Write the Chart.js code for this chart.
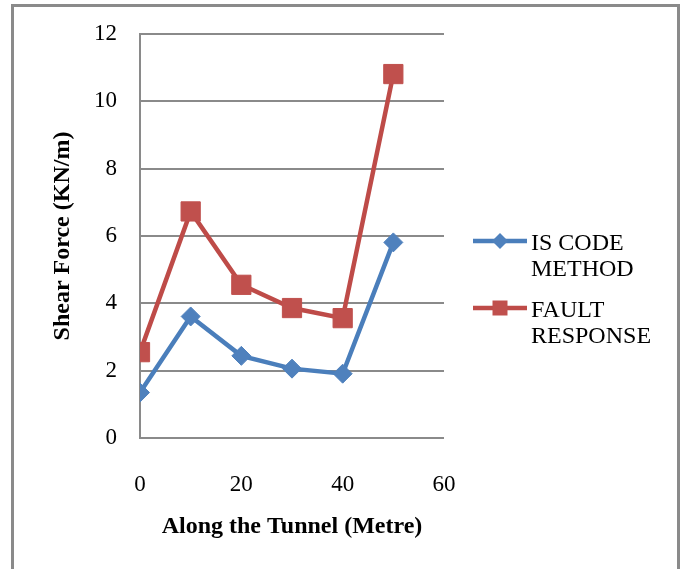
<!DOCTYPE html>
<html>
<head>
<meta charset="utf-8">
<style>
  html, body { margin: 0; padding: 0; background: #ffffff; }
  #wrap { width: 683px; height: 569px; position: relative; }
</style>
<script src="https://cdn.jsdelivr.net/npm/chart.js@4/dist/chart.umd.min.js"></script>
</head>
<body>
<div id="wrap"><canvas id="chart" width="683" height="569"></canvas></div>
<script>
// Distance along the tunnel (m) and shear force (KN/m) for each method
const distances = [0, 10, 20, 30, 40, 50];
const isCodeMethod = [1.35, 3.61, 2.44, 2.06, 1.91, 5.81];
const faultResponse = [2.55, 6.73, 4.55, 3.86, 3.56, 10.81];
const seriesLabels = [['IS CODE', 'METHOD'], ['FAULT', 'RESPONSE']];
const xTicks = [0, 20, 40, 60];
const yTicks = [0, 2, 4, 6, 8, 10, 12];

const SERIF = '"Liberation Serif", "Times New Roman", serif';
const GRID = '#8a8a8a';
const BLUE = '#4a7ebb';
const RED = '#be4b48';

const toPoints = vals => vals.map((v, i) => ({ x: distances[i], y: v }));

// Outer frame (open at the bottom)
const framePlugin = {
  id: 'frame',
  beforeDraw(chart) {
    const ctx = chart.ctx;
    ctx.save();
    ctx.strokeStyle = GRID;
    ctx.lineWidth = 3;
    ctx.beginPath();
    ctx.moveTo(12.5, 569);
    ctx.lineTo(12.5, 5.5);
    ctx.lineTo(678.5, 5.5);
    ctx.lineTo(678.5, 569);
    ctx.stroke();
    ctx.restore();
  }
};

// Legend on the right with two-line labels
const sideLegend = {
  id: 'sideLegend',
  afterDraw(chart) {
    const ctx = chart.ctx;
    const rows = [241, 308];
    ctx.save();
    chart.data.datasets.forEach((ds, i) => {
      const y = rows[i];
      ctx.strokeStyle = ds.borderColor;
      ctx.lineWidth = 4.5;
      ctx.beginPath();
      ctx.moveTo(473, y);
      ctx.lineTo(527, y);
      ctx.stroke();
      ctx.fillStyle = ds.pointBackgroundColor;
      ctx.beginPath();
      if (ds.pointStyle === 'rectRot') {
        const r = 8;
        ctx.moveTo(500 - r, y);
        ctx.lineTo(500, y - r);
        ctx.lineTo(500 + r, y);
        ctx.lineTo(500, y + r);
        ctx.closePath();
      } else {
        ctx.rect(492.5, y - 7.5, 15, 15);
      }
      ctx.fill();
      ctx.fillStyle = '#000000';
      ctx.font = '24px ' + SERIF;
      ctx.textAlign = 'left';
      ctx.textBaseline = 'alphabetic';
      ds.label.forEach((line, k) => {
        ctx.fillText(line, 531, y + 8.5 + k * 26.7);
      });
    });
    ctx.restore();
  }
};

new Chart(document.getElementById('chart'), {
  type: 'line',
  data: {
    datasets: [
      {
        label: seriesLabels[0],
        data: toPoints(isCodeMethod),
        borderColor: BLUE,
        backgroundColor: '#4f81bd',
        pointBackgroundColor: '#4f81bd',
        pointBorderColor: '#4f81bd',
        borderWidth: 4.5,
        pointStyle: 'rectRot',
        pointRadius: 9.5,
        pointBorderWidth: 1,
        tension: 0
      },
      {
        label: seriesLabels[1],
        data: toPoints(faultResponse),
        borderColor: RED,
        backgroundColor: '#c0504d',
        pointBackgroundColor: '#c0504d',
        pointBorderColor: '#c0504d',
        borderWidth: 4.5,
        pointStyle: 'rect',
        pointRadius: 13.6,
        pointBorderWidth: 1,
        tension: 0
      }
    ]
  },
  options: {
    responsive: false,
    animation: false,
    events: [],
    layout: { padding: { left: 0, top: 34, right: 239, bottom: 0 } },
    plugins: {
      legend: { display: false },
      tooltip: { enabled: false }
    },
    scales: {
      x: {
        type: 'linear',
        min: 0,
        max: 60,
        afterFit(scale) { scale.height = 131; },
        afterBuildTicks(scale) { scale.ticks = xTicks.map(v => ({ value: v })); },
        grid: { display: false, drawTicks: false },
        border: { display: false },
        ticks: {
          padding: 33,
          color: '#000000',
          font: { family: SERIF, size: 23 }
        },
        title: {
          display: true,
          text: 'Along the Tunnel (Metre)',
          color: '#000000',
          font: { family: SERIF, size: 24, weight: 'bold' },
          padding: { top: 0, bottom: 28 }
        }
      },
      y: {
        min: 0,
        max: 12,
        afterFit(scale) {
          // fixed axis width; tick labels may overhang the plot edges
          scale.width = 140;
          scale.paddingTop = 0;
          scale.paddingBottom = 0;
        },
        afterBuildTicks(scale) { scale.ticks = yTicks.map(v => ({ value: v })); },
        grid: { color: GRID, lineWidth: 2, drawTicks: false },
        border: { display: true, color: GRID, width: 2 },
        ticks: {
          padding: 23,
          color: '#000000',
          font: { family: SERIF, size: 23 }
        },
        title: {
          display: true,
          text: 'Shear Force (KN/m)',
          color: '#000000',
          font: { family: SERIF, size: 24, weight: 'bold' },
          padding: { top: 48, bottom: 0 }
        }
      }
    }
  },
  plugins: [framePlugin, sideLegend]
});
</script>
</body>
</html>
